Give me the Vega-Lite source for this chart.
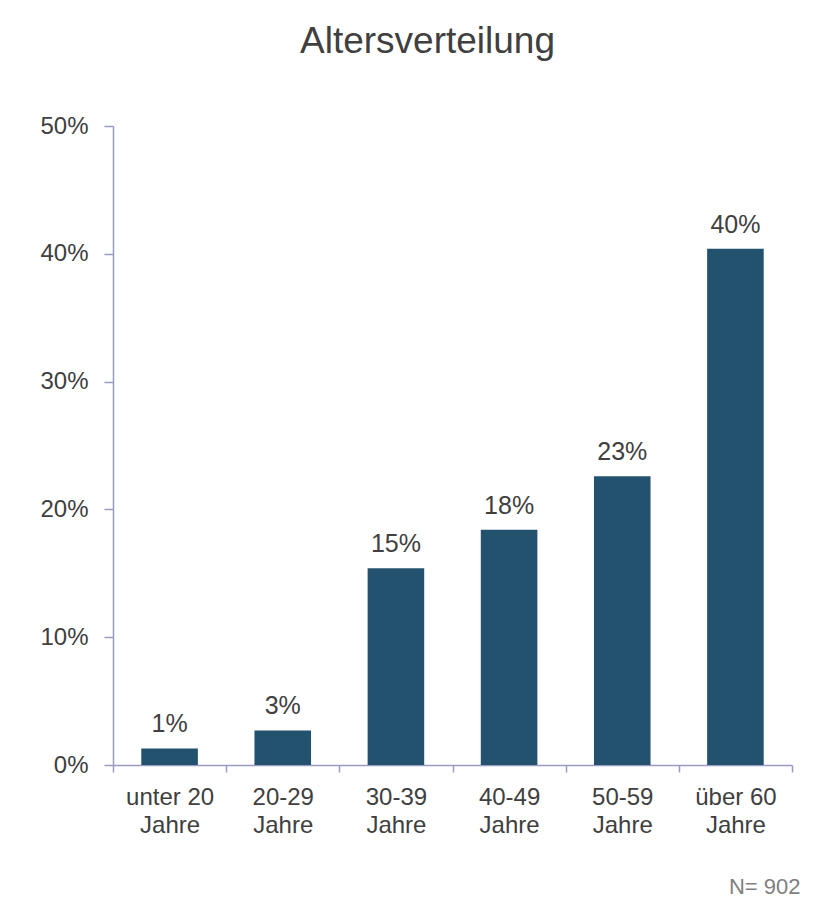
{
  "$schema": "https://vega.github.io/schema/vega-lite/v6.json",
  "autosize": {"type": "none"},
  "width": 679,
  "height": 639,
  "padding": {"left": 113, "top": 126, "right": 35, "bottom": 140},
  "background": "white",
  "title": {
    "text": "Altersverteilung",
    "fontSize": 37,
    "font": "Liberation Sans",
    "fontWeight": "normal",
    "color": "#404040",
    "anchor": "middle",
    "baseline": "alphabetic",
    "dx": -25,
    "offset": 24
  },
  "data": {
    "values": [
      {"gruppe": "unter 20|Jahre", "anteil": 0.013},
      {"gruppe": "20-29|Jahre", "anteil": 0.027},
      {"gruppe": "30-39|Jahre", "anteil": 0.154},
      {"gruppe": "40-49|Jahre", "anteil": 0.184},
      {"gruppe": "50-59|Jahre", "anteil": 0.226},
      {"gruppe": "über 60|Jahre", "anteil": 0.404}
    ]
  },
  "encoding": {
    "x": {
      "field": "gruppe",
      "type": "nominal",
      "sort": null,
      "scale": {"paddingInner": 0, "paddingOuter": 0},
      "axis": {
        "title": "N= 902",
        "titleAnchor": "end",
        "titleFontSize": 22,
        "titleFontWeight": "normal",
        "titleColor": "#7f7f7f",
        "titlePadding": 39,
        "titleX": 687,
        "labelExpr": "datum.value ? split(datum.value, '|') : ''",
        "labelAngle": 0,
        "labelFontSize": 24,
        "labelLineHeight": 28,
        "labelColor": "#404040",
        "labelPadding": 13,
        "tickBand": "extent",
        "tickSize": 7,
        "tickColor": "#9a9ac4",
        "domainColor": "#9a9ac4",
        "domainWidth": 1.5,
        "tickWidth": 1.5
      }
    },
    "y": {
      "field": "anteil",
      "type": "quantitative",
      "scale": {"domain": [0, 0.5]},
      "axis": {
        "title": null,
        "format": ".0%",
        "values": [0, 0.1, 0.2, 0.3, 0.4, 0.5],
        "grid": false,
        "labelFontSize": 24,
        "labelColor": "#404040",
        "labelPadding": 16,
        "tickSize": 9,
        "tickColor": "#9a9ac4",
        "domainColor": "#9a9ac4",
        "domainWidth": 1.5,
        "tickWidth": 1.5
      }
    }
  },
  "layer": [
    {"mark": {"type": "bar", "color": "#23526f", "width": {"band": 0.5}}},
    {
      "mark": {"type": "text", "baseline": "alphabetic", "dy": -16, "fontSize": 25, "color": "#404040", "font": "Liberation Sans"},
      "encoding": {"text": {"field": "anteil", "type": "quantitative", "format": ".0%"}}
    }
  ],
  "config": {
    "font": "Liberation Sans",
    "view": {"stroke": null},
    "axis": {"labelFont": "Liberation Sans", "titleFont": "Liberation Sans"}
  }
}
